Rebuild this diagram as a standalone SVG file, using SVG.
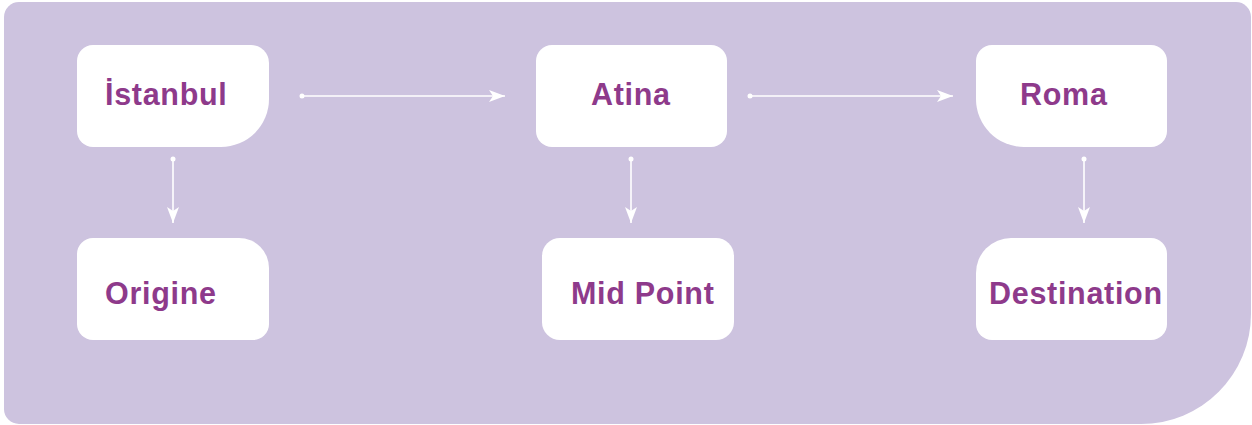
<svg xmlns="http://www.w3.org/2000/svg" width="1252" height="425" viewBox="0 0 1252 425">
<style>
.bg{fill:#cdc3df}
.node{fill:#ffffff}
.lbl{font-family:"Liberation Sans",Arial,sans-serif;font-weight:bold;font-size:30.5px;letter-spacing:0.7px;fill:#8e3a8b}
.conn{stroke:#ffffff;stroke-width:1.6;fill:none}
.dot{fill:#ffffff}
</style>
<defs>
<marker id="arr" markerUnits="userSpaceOnUse" markerWidth="18" markerHeight="14" refX="16" refY="6" orient="auto">
<path d="M0,0 L16,6 L0,12 L4,6 Z" fill="#ffffff"/>
</marker>
</defs>
<path class="bg" d="M4,17 A15,15 0 0 1 19,2 H1236 A15,15 0 0 1 1251,17 V314 A110,110 0 0 1 1141,424 H19 A15,15 0 0 1 4,409 Z"/>
<g id="connectors">
<line class="conn" x1="302" y1="96" x2="505" y2="96" marker-end="url(#arr)"/>
<circle class="dot" cx="302" cy="96" r="2.5"/>
<line class="conn" x1="750" y1="96" x2="953" y2="96" marker-end="url(#arr)"/>
<circle class="dot" cx="750" cy="96" r="2.5"/>
<line class="conn" x1="173" y1="159" x2="173" y2="223" marker-end="url(#arr)"/>
<circle class="dot" cx="173" cy="159" r="2.5"/>
<line class="conn" x1="631" y1="159" x2="631" y2="223" marker-end="url(#arr)"/>
<circle class="dot" cx="631" cy="159" r="2.5"/>
<line class="conn" x1="1084" y1="159" x2="1084" y2="223" marker-end="url(#arr)"/>
<circle class="dot" cx="1084" cy="159" r="2.5"/>
</g>
<g id="istanbul">
<path class="node" d="M93,45 H251 A18,18 0 0 1 269,63 V99 A48,48 0 0 1 221,147 H93 A16,16 0 0 1 77,131 V61 A16,16 0 0 1 93,45 Z"/>
<text class="lbl" x="105" y="105">İstanbul</text>
</g>
<g id="atina">
<rect class="node" x="536" y="45" width="191" height="102" rx="16"/>
<text class="lbl" x="591" y="105">Atina</text>
</g>
<g id="roma">
<path class="node" d="M992,45 H1151 A16,16 0 0 1 1167,61 V131 A16,16 0 0 1 1151,147 H1024 A48,48 0 0 1 976,99 V61 A16,16 0 0 1 992,45 Z"/>
<text class="lbl" x="1020" y="105">Roma</text>
</g>
<g id="origine">
<path class="node" d="M93,238 H239 A30,30 0 0 1 269,268 V324 A16,16 0 0 1 253,340 H93 A16,16 0 0 1 77,324 V254 A16,16 0 0 1 93,238 Z"/>
<text class="lbl" x="105" y="304">Origine</text>
</g>
<g id="midpoint">
<rect class="node" x="542" y="238" width="192" height="102" rx="18"/>
<text class="lbl" x="571" y="304">Mid Point</text>
</g>
<g id="destination">
<path class="node" d="M1011,238 H1151 A16,16 0 0 1 1167,254 V324 A16,16 0 0 1 1151,340 H992 A16,16 0 0 1 976,324 V273 A35,35 0 0 1 1011,238 Z"/>
<text class="lbl" x="989" y="304">Destination</text>
</g>
</svg>
